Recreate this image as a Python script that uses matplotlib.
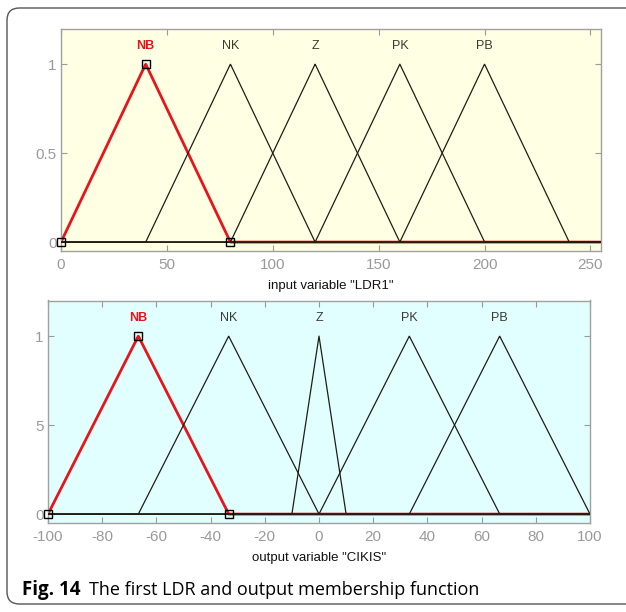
import numpy as np
import matplotlib.pyplot as plt
from matplotlib.patches import FancyBboxPatch

# membership functions, triangle params [a, b, c]
mf_names = ["NB", "NK", "Z", "PK", "PB"]
ldr_range = [0, 255]
ldr_params = [[0, 40, 80], [40, 80, 120], [80, 120, 160], [120, 160, 200], [160, 200, 240]]
out_range = [-100, 100]
out_params = [[-100, -66.67, -33.33], [-66.67, -33.33, 0], [-10, 0, 10],
              [0, 33.33, 66.67], [33.33, 66.67, 100]]

ldr_xticks = [0, 50, 100, 150, 200, 250]
out_xticks = [-100, -80, -60, -40, -20, 0, 20, 40, 60, 80, 100]
ldr_ytick_labels = ["0", "0.5", "1"]
out_ytick_labels = ["0", "5", "1"]

sans = ["Liberation Sans", "DejaVu Sans"]


def trimf(x, p):
    a, b, c = p
    return np.maximum(np.minimum((x - a) / (b - a), (c - x) / (c - b)), 0)


def plotmf(ax, rng, params, xticks, ylabels, xlabel, bg):
    x = np.linspace(rng[0], rng[1], 2001)
    ax.set_facecolor(bg)
    # selected MF in red underneath, others thin black on top
    ax.plot(x, trimf(x, params[0]), color="#e8141b", lw=2.0, zorder=2)
    for p in params[1:]:
        ax.plot(x, trimf(x, p), color="#1e1e14", lw=0.9, zorder=3)
    a, b, c = params[0]
    ax.plot([a, b, c], [0, 1, 0], ls="none", marker="s", ms=6, mfc="none",
            mec="black", mew=1.0, zorder=4, clip_on=False)
    for i, (name, p) in enumerate(zip(mf_names, params)):
        ax.text(p[1], 1.1, name, ha="center", va="center", fontsize=9,
                family=sans, color="#e8141b" if i == 0 else "#3a3a30",
                fontweight="bold" if i == 0 else "normal")
    ax.set_xlim(rng)
    ax.set_ylim(-0.05, 1.2)
    ax.set_xticks(xticks)
    ax.set_xticklabels([str(t) for t in xticks])
    ax.set_yticks([0, 0.5, 1])
    ax.set_yticklabels(ylabels)
    ax.tick_params(direction="in", color="#999999", labelcolor="#9a9a9a",
                   labelsize=11, top=True, right=True, length=4)
    ax.tick_params(axis="x", pad=5)
    ax.tick_params(axis="y", pad=3)
    for lab in ax.get_xticklabels() + ax.get_yticklabels():
        lab.set_family(sans)
    for s in ax.spines.values():
        s.set_color("#a0a0a0")
        s.set_linewidth(1.0)
    ax.set_xlabel(xlabel, fontsize=9.5, color="#111111", labelpad=6,
                  family=sans)


fig = plt.figure(figsize=(6.26, 6.12), dpi=100)

card = FancyBboxPatch((7 / 626, 8 / 612), 700 / 626, 596 / 612,
                      boxstyle="round,pad=0,rounding_size=0.02",
                      transform=fig.transFigure, fc="white", ec="#555555",
                      lw=1.0, zorder=-10)
fig.patches.append(card)

ax1 = fig.add_axes([61 / 626, 1 - 251 / 612, 540 / 626, 222.5 / 612])
plotmf(ax1, ldr_range, ldr_params, ldr_xticks, ldr_ytick_labels,
       'input variable "LDR1"', "#ffffe3")

ax2 = fig.add_axes([48 / 626, 1 - 523 / 612, 542 / 626, 222.5 / 612])
plotmf(ax2, out_range, out_params, out_xticks, out_ytick_labels,
       'output variable "CIKIS"', "#e2ffff")

fig.text(22 / 626, 1 - 590 / 612, "Fig. 14", fontsize=13.5, fontweight="bold",
         family="Open Sans", va="center", ha="left")
fig.text(89 / 626, 1 - 590 / 612, "The first LDR and output membership function",
         fontsize=13, family="Open Sans", va="center", ha="left")

fig.savefig("out.png", dpi=100)
